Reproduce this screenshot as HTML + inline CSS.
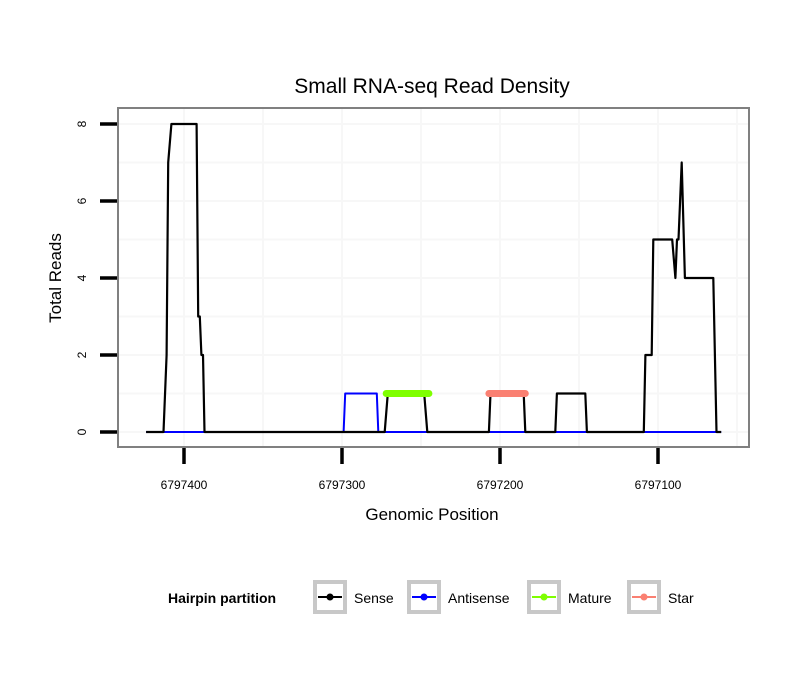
<!DOCTYPE html>
<html><head><meta charset="utf-8"><style>
body{margin:0;background:#fff;}
svg{display:block;font-family:"Liberation Sans",sans-serif;}
</style></head><body>
<svg id="chart" width="810" height="690">
<rect width="810" height="690" fill="#fff"/>
<text x="432" y="93" font-size="21" text-anchor="middle">Small RNA-seq Read Density</text>
<g id="grid"></g>
<g id="series"></g>
<rect x="118" y="108" width="631" height="339" fill="none" stroke="#808080" stroke-width="2"/>
<g id="axes"></g>
<text x="432" y="520" font-size="17" text-anchor="middle">Genomic Position</text>
<text transform="translate(61,278) rotate(-90)" font-size="17" text-anchor="middle">Total Reads</text>
<g>
<text x="168" y="603" font-size="14" font-weight="bold">Hairpin partition</text>
<g><rect x="315" y="582" width="30" height="30" fill="#fff" stroke="#c8c8c8" stroke-width="4"/><line x1="318" y1="597" x2="342" y2="597" stroke="#000" stroke-width="2"/><circle cx="330" cy="597" r="3.5" fill="#000"/><text x="354" y="603" font-size="14">Sense</text></g>
<g><rect x="409" y="582" width="30" height="30" fill="#fff" stroke="#c8c8c8" stroke-width="4"/><line x1="412" y1="597" x2="436" y2="597" stroke="#0000ff" stroke-width="2"/><circle cx="424" cy="597" r="3.5" fill="#0000ff"/><text x="448" y="603" font-size="14">Antisense</text></g>
<g><rect x="529" y="582" width="30" height="30" fill="#fff" stroke="#c8c8c8" stroke-width="4"/><line x1="532" y1="597" x2="556" y2="597" stroke="#7fff00" stroke-width="2"/><circle cx="544" cy="597" r="3.5" fill="#7fff00"/><text x="568" y="603" font-size="14">Mature</text></g>
<g><rect x="629" y="582" width="30" height="30" fill="#fff" stroke="#c8c8c8" stroke-width="4"/><line x1="632" y1="597" x2="656" y2="597" stroke="#fa8072" stroke-width="2"/><circle cx="644" cy="597" r="3.5" fill="#fa8072"/><text x="668" y="603" font-size="14">Star</text></g>
</g>
</svg>
<script>
const senseX=[6797424,6797413,6797411,6797410,6797408,6797392,6797391,6797390,6797389,6797388,6797387,6797273,6797271,6797248,6797246,6797207,6797206,6797185,6797184,6797165,6797164,6797146,6797145,6797109,6797108,6797104,6797103,6797091,6797089,6797088,6797087,6797085,6797083,6797065,6797063,6797060];
const senseY=[0,0,2,7,8,8,3,3,2,2,0,0,1,1,0,0,1,1,0,0,1,1,0,0,2,2,5,5,4,5,5,7,4,4,0,0];
const antiX=[6797424,6797299,6797298,6797278,6797277,6797060];
const antiY=[0,0,1,1,0,0];
const matureX=[6797272,6797245];
const matureY=[1,1];
const starX=[6797207,6797184];
const starY=[1,1];
const xTicks=[6797400,6797300,6797200,6797100];
const xMinor=[6797350,6797250,6797150,6797050];
const yTicks=[0,2,4,6,8];
const yMinor=[1,3,5,7];
const NS="http://www.w3.org/2000/svg";
function sx(p){return 184+(6797400-p)*1.58;}
function sy(v){return 432-v*38.5;}
function mk(tag,attrs,parent){const e=document.createElementNS(NS,tag);for(const k in attrs)e.setAttribute(k,attrs[k]);parent.appendChild(e);return e;}
const grid=document.getElementById('grid'),series=document.getElementById('series'),axes=document.getElementById('axes');
xTicks.concat(xMinor).forEach(p=>{const l=mk('line',{x1:sx(p),x2:sx(p),y1:109,y2:446,stroke:'#f7f7f7','stroke-width':2},grid);

});
yTicks.concat(yMinor).forEach(v=>{const l=mk('line',{x1:119,x2:748,y1:sy(v),y2:sy(v),stroke:'#f7f7f7','stroke-width':2},grid);

});
function path(xs,ys,color,w,name){const d=xs.map((x,i)=>(i?'L':'M')+sx(x).toFixed(1)+','+sy(ys[i]).toFixed(1)).join('');
const p=mk('path',{d:d,fill:'none',stroke:color,'stroke-width':w,'stroke-linejoin':'round','stroke-linecap':w>3?'round':'butt'},series);

}
path(antiX,antiY,'#0000ff',2,'antisense-line');
path(senseX,senseY,'#000',2.2,'sense-line');
path(matureX,matureY,'#7fff00',7,'mature-segment');
path(starX,starY,'#fa8072',7,'star-segment');
xTicks.forEach(p=>{const t=mk('line',{x1:sx(p),x2:sx(p),y1:448,y2:464,stroke:'#000','stroke-width':3.5},axes);


const tx=mk('text',{x:sx(p),y:489,'font-size':12,'text-anchor':'middle'},axes);tx.textContent=p;

});
yTicks.forEach(v=>{const t=mk('line',{x1:100,x2:117,y1:sy(v),y2:sy(v),stroke:'#000','stroke-width':3.5},axes);


const tx=mk('text',{transform:'translate(86,'+sy(v)+') rotate(-90)','font-size':12,'text-anchor':'middle'},axes);tx.textContent=v;

});
</script>
</body></html>
